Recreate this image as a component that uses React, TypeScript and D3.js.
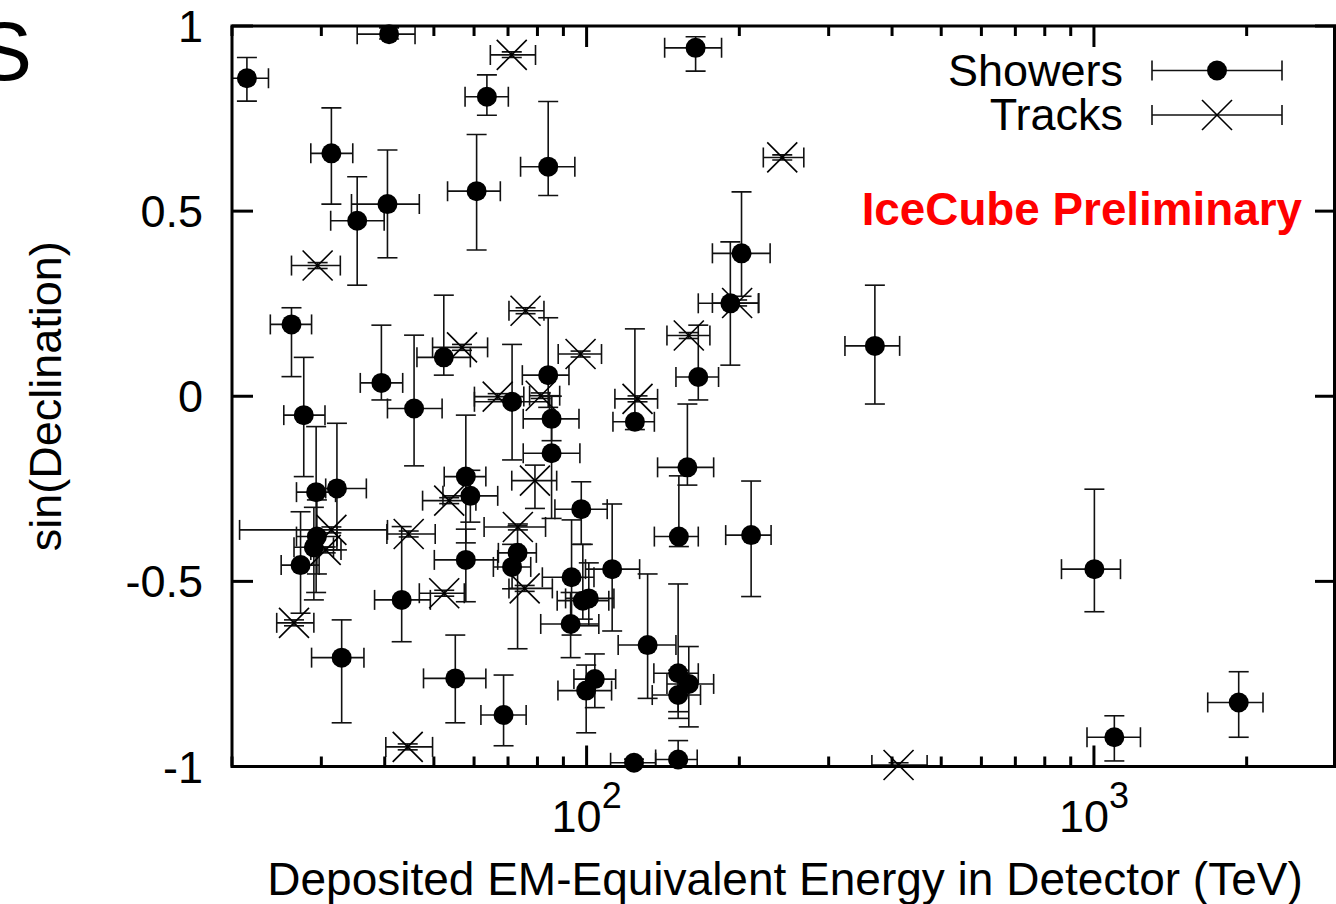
import React, { useEffect } from "react";
import * as d3 from "d3";

// ---- Data ----
// Showers: deposited energy (TeV), its lower/upper bounds, sin(declination) and its bounds
const showerE = [21.4, 40.8, 63.6, 164, 31.4, 40.5, 35.3, 60.7, 84.0, 202, 192, 26.2, 39.4, 52.3, 84.0, 166, 370, 27.7, 45.7, 71.3, 85.3, 124.5, 85.3, 158, 57.8, 59.0, 32.2, 29.3, 29.4, 29.0, 27.3, 152, 211, 97.6, 57.8, 71.3, 73.1, 43.2, 93.4, 98.3, 101, 112.3, 93.0, 32.9, 55.1, 68.6, 131.9, 151.5, 159, 151.5, 103.8, 99.8, 124, 151.5, 1002, 1097, 1929];
const showerELo = [19.4, 35.3, 57.6, 142.5, 28.6, 34.4, 31.3, 53.2, 74.1, 177, 166, 23.8, 35.8, 46.3, 74.7, 150, 323, 25.3, 40.5, 60.1, 75.0, 112.7, 75.0, 138, 52.4, 52.1, 30.6, 26.8, 26.8, 26.5, 25.0, 136, 188, 86.6, 50.1, 65.5, 67.0, 38.2, 81.8, 87.5, 90.9, 99.5, 81.2, 28.7, 47.7, 61.9, 115.4, 135.7, 144, 134.7, 94.4, 87.8, 111.5, 136.8, 863, 969, 1676];
const showerEHi = [23.6, 45.9, 70.1, 184.5, 34.6, 46.8, 39.9, 67.6, 94.8, 230, 218, 28.7, 43.4, 59.0, 92.3, 182, 414, 30.5, 51.9, 84.5, 96.6, 136, 97.0, 178, 63.3, 66.8, 36.8, 32.0, 32.2, 31.7, 29.7, 166, 231, 109.8, 66.8, 77.6, 79.6, 49.2, 103.4, 110.6, 113.2, 127.2, 105.7, 36.4, 63.3, 76.0, 150, 166, 178, 167.7, 114.1, 112, 136.8, 165.2, 1128, 1235, 2154];
const showerSin = [0.859, 0.978, 0.809, 0.941, 0.656, 0.519, 0.474, 0.554, 0.62, 0.386, 0.251, 0.194, 0.036, 0.105, 0.057, 0.052, 0.136, -0.051, -0.033, -0.015, -0.061, -0.069, -0.154, -0.192, -0.217, -0.269, -0.249, -0.259, -0.379, -0.408, -0.456, -0.379, -0.375, -0.305, -0.442, -0.461, -0.423, -0.55, -0.489, -0.552, -0.546, -0.467, -0.615, -0.706, -0.762, -0.861, -0.672, -0.748, -0.777, -0.807, -0.764, -0.795, -0.99, -0.981, -0.467, -0.921, -0.827];
const showerSinLo = [0.797, 0.965, 0.759, 0.878, 0.519, 0.374, 0.3, 0.395, 0.542, 0.27, 0.084, 0.053, -0.01, 0.057, -0.03, -0.01, -0.021, -0.217, -0.188, -0.172, -0.12, -0.09, -0.33, -0.24, -0.396, -0.34, -0.415, -0.53, -0.48, -0.55, -0.586, -0.406, -0.541, -0.4, -0.555, -0.52, -0.682, -0.663, -0.645, -0.602, -0.62, -0.634, -0.706, -0.882, -0.882, -0.944, -0.816, -0.852, -0.893, -0.87, -0.841, -0.909, -1.0, -1.0, -0.582, -0.985, -0.921];
const showerSinHi = [0.915, 0.995, 0.868, 0.971, 0.779, 0.665, 0.593, 0.707, 0.796, 0.552, 0.417, 0.239, 0.192, 0.273, 0.212, 0.192, 0.3, 0.105, 0.165, 0.14, 0.0, 0.182, 0.0, -0.021, -0.051, -0.2, -0.073, -0.082, -0.28, -0.3, -0.312, -0.215, -0.229, -0.231, -0.359, -0.4, -0.35, -0.352, -0.334, -0.4, -0.45, -0.291, -0.53, -0.604, -0.645, -0.753, -0.48, -0.507, -0.676, -0.74, -0.696, -0.726, -0.98, -0.93, -0.251, -0.863, -0.744];

// Tracks
const trackE = [71.2, 243, 29.5, 75.8, 56.8, 97.3, 159, 198, 66.8, 81.2, 126, 79.1, 53.6, 31.4, 44.6, 73.2, 52.4, 75.5, 26.5, 44.4, 412, 30.6];
const trackELo = [64.6, 223, 26.2, 70.3, 49.7, 87.9, 144, 177, 60.1, 77.2, 113.7, 71.2, 47.5, 20.7, 40.4, 62.8, 46.8, 70.3, 24.5, 40.2, 365, 28.6];
const trackEHi = [79.3, 268, 32.7, 82.4, 63.8, 107, 175, 218.5, 75.2, 88.5, 138, 87.3, 60.5, 40.5, 50.3, 83.0, 57.4, 85.6, 29.0, 49.7, 469, 32.8];
const trackSin = [0.922, 0.645, 0.353, 0.231, 0.132, 0.114, 0.164, 0.252, -0.001, 0.0015, -0.007, -0.228, -0.282, -0.361, -0.372, -0.353, -0.532, -0.519, -0.612, -0.947, -0.996, -0.415];
const trackSinLo = [0.915, 0.638, 0.345, 0.223, 0.124, 0.106, 0.156, 0.244, -0.009, -0.006, -0.015, -0.303, -0.29, -0.369, -0.38, -0.361, -0.54, -0.527, -0.62, -0.955, -1.0, -0.423];
const trackSinHi = [0.93, 0.652, 0.361, 0.239, 0.14, 0.122, 0.172, 0.26, 0.007, 0.009, 0.001, -0.186, -0.274, -0.353, -0.364, -0.345, -0.524, -0.511, -0.604, -0.939, -0.99, -0.407];

const yTickValues = [-1, -0.5, 0, 0.5, 1];
const yTickLabels = ["-1", "-0.5", "0", "0.5", "1"];
const xMajorTicks = [100, 1000];
const xMajorExp = ["2", "3"];
const xMinorTicks = [20, 30, 40, 50, 60, 70, 80, 90, 200, 300, 400, 500, 600, 700, 800, 900, 2000];

const xTitle = "Deposited EM-Equivalent Energy in Detector (TeV)";
const yTitle = "sin(Declination)";
const legendLabels = ["Showers", "Tracks"];
const watermark = "IceCube Preliminary";

const W = 1336;
const H = 904;
const FONT = "'Liberation Sans', Arial, Helvetica, sans-serif";

export default function App() {
  useEffect(() => {
    document.body.style.margin = "0";
  }, []);

  const left = 232, right = 1336, top = 26, bottom = 766.5;
  const x = d3.scaleLog().domain([20, 3000]).range([left, right]);
  const y = d3.scaleLinear().domain([-1, 1]).range([bottom, top]);

  const cap = 10;
  const ebStroke = "#111";
  const ebW = 1.6;

  const errorBars = (E: number[], ELo: number[], EHi: number[], S: number[], SLo: number[], SHi: number[], key: string) =>
    E.map((e, i) => {
      const cx = x(e), cy = y(S[i]);
      const x0 = x(ELo[i]), x1 = x(EHi[i]);
      const y0 = y(SLo[i]), y1 = y(SHi[i]);
      return (
        <g key={key + i} stroke={ebStroke} strokeWidth={ebW} fill="none">
          <line x1={x0} x2={x1} y1={cy} y2={cy} />
          <line x1={x0} x2={x0} y1={cy - cap} y2={cy + cap} />
          <line x1={x1} x2={x1} y1={cy - cap} y2={cy + cap} />
          <line x1={cx} x2={cx} y1={y0} y2={y1} />
          <line x1={cx - cap} x2={cx + cap} y1={y0} y2={y0} />
          <line x1={cx - cap} x2={cx + cap} y1={y1} y2={y1} />
        </g>
      );
    });

  const cross = (cx: number, cy: number, k: string) => (
    <g key={k} stroke="#000" strokeWidth={1.6}>
      <line x1={cx - 15} y1={cy - 15} x2={cx + 15} y2={cy + 15} />
      <line x1={cx - 15} y1={cy + 15} x2={cx + 15} y2={cy - 15} />
    </g>
  );

  return (
    <svg width={W} height={H} style={{ display: "block", background: "#fff" }} fontFamily={FONT}>
      <defs>
        <clipPath id="plotClip">
          <rect x={left} y={top} width={right - left} height={bottom - top} />
        </clipPath>
      </defs>
      <rect x={0} y={0} width={W} height={H} fill="#fff" />

      {/* cut-off letter at top-left */}
      <text x={32} y={80} fontSize={84} textAnchor="end" fill="#000">S</text>

      {/* error bars (clipped to the plot) */}
      <g clipPath="url(#plotClip)">
        {errorBars(showerE, showerELo, showerEHi, showerSin, showerSinLo, showerSinHi, "se")}
        {errorBars(trackE, trackELo, trackEHi, trackSin, trackSinLo, trackSinHi, "te")}
      </g>

      {/* ticks */}
      <g stroke="#000" strokeWidth={3}>
        {xMinorTicks.map((t) => (
          <g key={"xm" + t}>
            <line x1={x(t)} x2={x(t)} y1={bottom} y2={bottom - 10} />
            <line x1={x(t)} x2={x(t)} y1={top} y2={top + 10} />
          </g>
        ))}
        {xMajorTicks.map((t) => (
          <g key={"xM" + t}>
            <line x1={x(t)} x2={x(t)} y1={bottom} y2={bottom - 21} />
            <line x1={x(t)} x2={x(t)} y1={top} y2={top + 21} />
          </g>
        ))}
        {yTickValues.map((t) => (
          <g key={"y" + t}>
            <line x1={left} x2={left + 21} y1={y(t)} y2={y(t)} />
            <line x1={right} x2={right - 21} y1={y(t)} y2={y(t)} />
          </g>
        ))}
      </g>

      {/* frame */}
      <rect x={left} y={top} width={right - left - 1.5} height={bottom - top} fill="none" stroke="#000" strokeWidth={3} />

      {/* markers (not clipped, as in the reference) */}
      {showerE.map((e, i) => (
        <circle key={"sc" + i} cx={x(e)} cy={y(showerSin[i])} r={10} fill="#000" />
      ))}
      {trackE.map((e, i) => cross(x(e), y(trackSin[i]), "tc" + i))}

      {/* tick labels */}
      {yTickValues.map((t, i) => (
        <text key={"yl" + t} x={203} y={y(t) + 16} fontSize={45} textAnchor="end" fill="#000">
          {yTickLabels[i]}
        </text>
      ))}
      {xMajorTicks.map((t, i) => (
        <text key={"xl" + t} x={x(t)} y={832} fontSize={45} textAnchor="middle" fill="#000">
          10<tspan dy={-24} fontSize={36}>{xMajorExp[i]}</tspan>
        </text>
      ))}

      {/* axis titles */}
      <text x={785} y={895} fontSize={46} textAnchor="middle" fill="#000">{xTitle}</text>
      <text transform={`translate(61,${(top + bottom) / 2}) rotate(-90)`} fontSize={45} textAnchor="middle" fill="#000">{yTitle}</text>

      {/* legend */}
      {legendLabels.map((lab, i) => {
        const ly = i === 0 ? 70.5 : 115;
        return (
          <g key={"lg" + i}>
            <text x={1123} y={ly + 15} fontSize={45} textAnchor="end" fill="#000">{lab}</text>
            <g stroke={ebStroke} strokeWidth={ebW}>
              <line x1={1152} x2={1282} y1={ly} y2={ly} />
              <line x1={1152} x2={1152} y1={ly - cap} y2={ly + cap} />
              <line x1={1282} x2={1282} y1={ly - cap} y2={ly + cap} />
            </g>
            {i === 0 ? <circle cx={1217} cy={ly} r={10} fill="#000" /> : cross(1217, ly, "lgc")}
          </g>
        );
      })}

      {/* watermark */}
      <text x={1302} y={225} fontSize={45.8} fontWeight="bold" textAnchor="end" fill="#ff0000">{watermark}</text>
    </svg>
  );
}
